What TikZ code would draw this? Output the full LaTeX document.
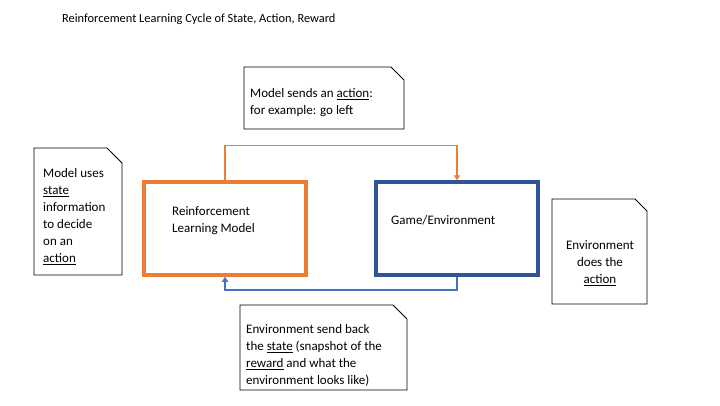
\documentclass[tikz,border=0pt]{standalone}
\usepackage{fontspec}
\setmainfont{Carlito}
\usetikzlibrary{arrows.meta}
\definecolor{rlorange}{RGB}{237,125,49}
\definecolor{envblue}{RGB}{47,85,151}
\definecolor{arrowblue}{RGB}{68,114,196}
\newcommand\ulw[1]{\setbox0\hbox{#1}\rlap{\rule[-2.6pt]{\wd0}{1.2pt}}\box0\relax}
\tikzset{
  bigbox/.style={draw, line width=3.5pt, minimum width=162pt, minimum height=93pt, inner sep=0pt},
  notetext/.style={inner sep=0pt, font=\fontsize{13}{17}\selectfont},
  noteline/.style={draw=black, line width=0.9pt},
  flow/.style={line width=1.5pt, -{Triangle[width=6pt,length=5pt]}},
}
\newcommand\snip[5]{% x1 y1 x2 y2 cut
  \draw[noteline] (#1,#2) -- (#3-#5,#2) -- (#3,#2+#5) -- (#3,#4) -- (#1,#4) -- cycle;}
\begin{document}
\begin{tikzpicture}[x=1pt,y=-1pt]
\useasboundingbox[fill=white] (0,0) rectangle (720,405);
% title
\node[anchor=base west, inner sep=0pt, font=\fontsize{12.4}{14}\selectfont] (title) at (62,22) {Reinforcement Learning Cycle of State, Action, Reward};
% main boxes
\node[bigbox, draw=rlorange] (rl) at (225,228.5) {};
\node[bigbox, draw=envblue] (env) at (457,228.5) {};
\node[notetext, anchor=north west, align=left] (rltext) at (172,206) {Reinforcement\\Learning Model};
\node[notetext, anchor=west] (envtext) at (391,220) {Game/Environment};
% connectors
\draw[flow, draw=rlorange] (rl.north) -- ++(0,-35) -| (env.north);
\draw[flow, draw=arrowblue] (env.south) -- ++(0,13) -| (rl.south);
% notes
\snip{244}{67}{404}{129}{13}
\node[notetext, anchor=north west, align=left] (topnote) at (250,88) {Model sends an \ulw{action}:\\for example: go left};
\snip{34}{148}{122}{275}{15}
\node[notetext, anchor=north west, align=left] (leftnote) at (43,168) {Model uses\\\ulw{state}\\information\\to decide\\on an\\\ulw{action}};
\snip{552}{199}{647}{304}{12}
\node[notetext, anchor=north, align=center] (rightnote) at (600,240) {Environment\\does the\\\ulw{action}};
\snip{240}{305}{407}{390}{14}
\node[notetext, anchor=north west, align=left] (botnote) at (246,324) {Environment send back\\the \ulw{state} (snapshot of the\\\ulw{reward} and what the\\environment looks like)};
\end{tikzpicture}
\end{document}
